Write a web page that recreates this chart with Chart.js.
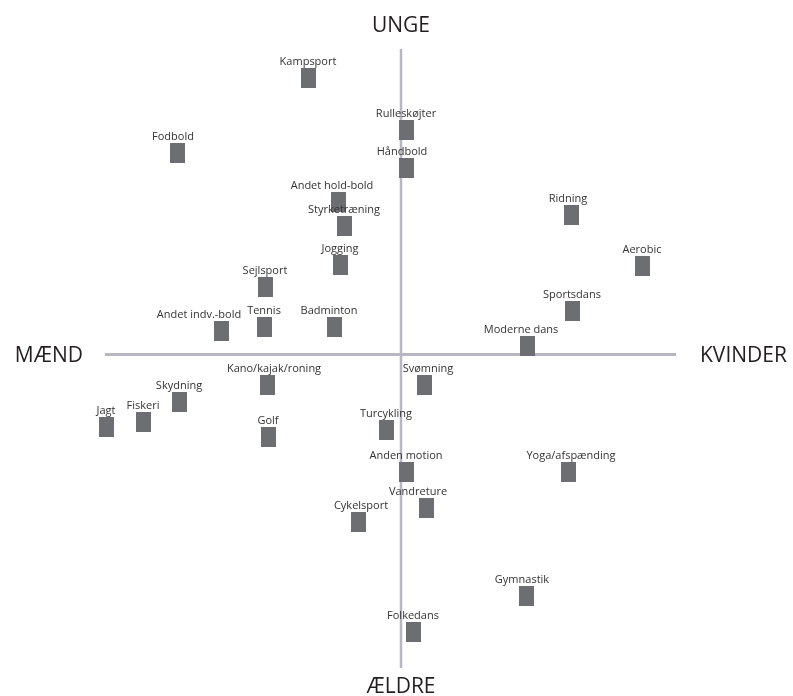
<!DOCTYPE html>
<html>
<head>
<meta charset="utf-8">
<script src="https://cdn.jsdelivr.net/npm/chart.js@4"></script>
<style>
  html, body { margin: 0; padding: 0; background: #fff; }
  .chart-container { position: relative; width: 793px; height: 696px; }
</style>
</head>
<body>
<div class="chart-container"><canvas id="chart"></canvas></div>
<script>
// aktiviteter: x = mænd (-) / kvinder (+), y = ældre (-) / unge (+)
const activities = [
  'Kampsport', 'Rulleskøjter', 'Fodbold', 'Håndbold', 'Andet hold-bold',
  'Styrketræning', 'Ridning', 'Jogging', 'Aerobic', 'Sejlsport',
  'Sportsdans', 'Andet indv.-bold', 'Tennis', 'Badminton', 'Moderne dans',
  'Kano/kajak/roning', 'Svømning', 'Skydning', 'Fiskeri', 'Jagt',
  'Turcykling', 'Golf', 'Anden motion', 'Yoga/afspænding', 'Vandreture',
  'Cykelsport', 'Gymnastik', 'Folkedans'
];
const genderScore = [
  -9.3, 0.5, -22.4, 0.5, -6.3,
  -5.7, 17.0, -6.1, 24.1, -13.6,
  17.1, -18.0, -13.7, -6.7, 12.6,
  -13.4, 2.3, -22.2, -25.8, -29.5,
  -1.5, -13.3, 0.5, 16.7, 2.5,
  -4.3, 12.5, 1.2
];
const ageScore = [
  27.7, 22.5, 20.2, 18.7, 15.3,
  12.9, 14.0, 9.0, 8.9, 6.8,
  4.4, 2.4, 2.8, 2.8, 0.9,
  -3.0, -3.0, -4.7, -6.7, -7.2,
  -7.5, -8.2, -11.7, -11.7, -15.3,
  -16.7, -24.1, -27.7
];

// akser (rækkevidde for de to linjer) og akse-titler
const xAxisRange = [-29.6, 27.5];
const yAxisRange = [-31.35, 30.55];
const axisTitles = { top: 'UNGE', bottom: 'ÆLDRE', left: 'MÆND', right: 'KVINDER' };

// små justeringer af label-placering (px)
const labelShift = {
  'Andet indv.-bold': -22, 'Kano/kajak/roning': 7, 'Moderne dans': -6,
  'Andet hold-bold': -6, 'Fodbold': -4, 'Badminton': -5, 'Svømning': 4,
  'Yoga/afspænding': 3, 'Gymnastik': -4, 'Vandreture': -8, 'Håndbold': -4,
  'Cykelsport': 3, 'Ridning': -3
};

const MARKER_COLOR = '#6d6e71';
const LINE_COLOR = '#b8b6c1';
const TEXT_COLOR = '#231f20';

// firkantet markør 15x20
const marker = document.createElement('canvas');
marker.width = 15;
marker.height = 20;
const mctx = marker.getContext('2d');
mctx.fillStyle = MARKER_COLOR;
mctx.fillRect(0, 0, 15, 20);

const points = activities.map((name, i) => ({ x: genderScore[i], y: ageScore[i] }));

const crossPlugin = {
  id: 'cross',
  beforeDatasetsDraw(chart) {
    const { ctx, scales: { x, y } } = chart;
    const x0 = x.getPixelForValue(0);
    const y0 = y.getPixelForValue(0);
    const left = x.getPixelForValue(xAxisRange[0]);
    const right = x.getPixelForValue(xAxisRange[1]);
    const top = y.getPixelForValue(yAxisRange[1]);
    const bottom = y.getPixelForValue(yAxisRange[0]);
    ctx.save();
    ctx.strokeStyle = LINE_COLOR;
    ctx.lineWidth = 3;
    ctx.beginPath();
    ctx.moveTo(left, y0);
    ctx.lineTo(right, y0);
    ctx.stroke();
    ctx.lineWidth = 2.5;
    ctx.beginPath();
    ctx.moveTo(x0, top);
    ctx.lineTo(x0, bottom);
    ctx.stroke();

    ctx.fillStyle = TEXT_COLOR;
    ctx.font = '21px "Open Sans"';
    ctx.textBaseline = 'alphabetic';
    ctx.textAlign = 'center';
    ctx.fillText(axisTitles.top, x0, top - 17);
    ctx.fillText(axisTitles.bottom, x0, bottom + 25);
    ctx.textAlign = 'right';
    ctx.fillText(axisTitles.left, left - 22, y0 + 7);
    ctx.textAlign = 'left';
    ctx.fillText(axisTitles.right, right + 24, y0 + 7);
    ctx.restore();
  },
  afterDatasetsDraw(chart) {
    const { ctx } = chart;
    const meta = chart.getDatasetMeta(0);
    ctx.save();
    ctx.fillStyle = '#333333';
    ctx.font = '11px "Open Sans"';
    ctx.textAlign = 'center';
    ctx.textBaseline = 'alphabetic';
    meta.data.forEach((pt, i) => {
      const name = activities[i];
      const dx = labelShift[name] || 0;
      ctx.fillText(name, pt.x + dx, pt.y - 10 - 3);
    });
    ctx.restore();
  }
};

new Chart(document.getElementById('chart').getContext('2d'), {
  type: 'scatter',
  data: {
    datasets: [{
      label: 'Aktiviteter',
      data: points,
      pointStyle: marker,
      pointRadius: 8,
      clip: false
    }]
  },
  options: {
    responsive: true,
    maintainAspectRatio: false,
    animation: false,
    events: [],
    layout: { padding: 0, autoPadding: false },
    plugins: {
      legend: { display: false },
      tooltip: { enabled: false }
    },
    scales: {
      x: { type: 'linear', min: -40.1, max: 39.2, display: false },
      y: { type: 'linear', min: -34.15, max: 35.45, display: false }
    }
  },
  plugins: [crossPlugin]
});
</script>
</body>
</html>
